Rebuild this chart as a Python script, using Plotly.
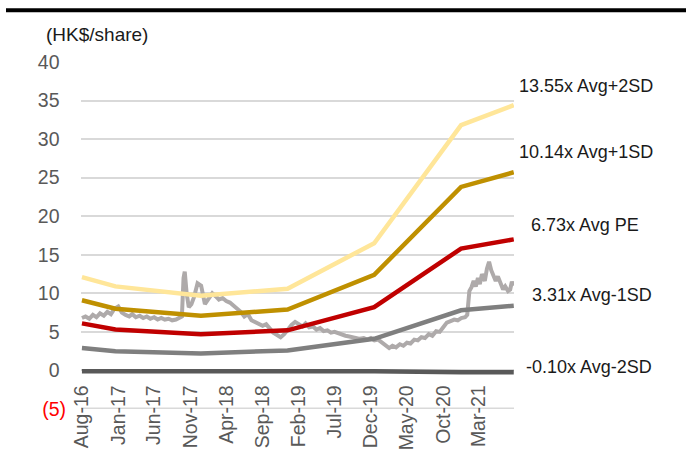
import plotly.graph_objects as go

# ---------------- data ----------------
band_dates = ["2016-08-01", "2016-12-20", "2017-12-15", "2018-12-15",
              "2019-12-15", "2020-12-15", "2021-07-25"]
plus2sd = [12.1, 10.9, 9.7, 10.6, 16.5, 31.8, 34.4]
plus1sd = [9.1, 8.0, 7.1, 7.9, 12.4, 23.8, 25.7]
avg_pe = [6.1, 5.3, 4.7, 5.2, 8.2, 15.8, 17.0]
minus1sd = [2.9, 2.5, 2.2, 2.6, 4.1, 7.8, 8.4]
minus2sd = [-0.09, -0.08, -0.07, -0.08, -0.12, -0.23, -0.25]

price_dates = [
    "2016-08-01", "2016-08-16", "2016-09-01", "2016-09-16", "2016-10-01", "2016-10-16",
    "2016-11-01", "2016-11-16", "2016-12-01", "2016-12-16", "2017-01-01", "2017-01-16",
    "2017-02-01", "2017-02-16", "2017-03-01", "2017-03-16", "2017-04-01", "2017-04-16",
    "2017-05-01", "2017-05-16", "2017-06-01", "2017-06-16", "2017-07-01", "2017-07-16",
    "2017-08-01", "2017-08-16", "2017-09-01", "2017-09-16", "2017-09-26", "2017-10-03",
    "2017-10-08", "2017-10-16", "2017-10-25", "2017-11-05", "2017-11-16", "2017-12-01",
    "2017-12-16", "2018-01-01", "2018-01-16", "2018-02-01", "2018-02-16", "2018-03-01",
    "2018-03-16", "2018-04-01", "2018-04-16", "2018-05-01", "2018-05-16", "2018-06-01",
    "2018-06-16", "2018-07-01", "2018-07-16", "2018-08-01", "2018-08-16", "2018-09-01",
    "2018-09-16", "2018-10-01", "2018-10-16", "2018-11-01", "2018-11-16", "2018-12-01",
    "2018-12-16", "2019-01-01", "2019-01-16", "2019-02-01", "2019-02-16", "2019-03-01",
    "2019-03-16", "2019-04-01", "2019-04-16", "2019-05-01", "2019-05-16", "2019-06-01",
    "2019-06-16", "2019-07-01", "2019-07-16", "2019-08-01", "2019-08-16", "2019-09-01",
    "2019-09-16", "2019-10-01", "2019-10-16", "2019-11-01", "2019-11-16", "2019-12-01",
    "2019-12-16", "2020-01-01", "2020-01-16", "2020-02-01", "2020-02-16", "2020-03-01",
    "2020-03-16", "2020-04-01", "2020-04-16", "2020-05-01", "2020-05-16", "2020-06-01",
    "2020-06-16", "2020-07-01", "2020-07-16", "2020-08-01", "2020-08-16", "2020-09-01",
    "2020-09-16", "2020-10-01", "2020-10-16", "2020-11-01", "2020-11-16", "2020-12-01",
    "2020-12-16", "2021-01-01", "2021-01-10", "2021-01-19", "2021-01-28", "2021-02-06",
    "2021-02-15", "2021-02-24", "2021-03-04", "2021-03-13", "2021-03-25", "2021-04-03",
    "2021-04-12", "2021-04-21", "2021-05-01", "2021-05-10", "2021-05-19", "2021-06-01",
    "2021-06-10", "2021-06-19", "2021-07-01", "2021-07-10", "2021-07-17", "2021-07-24",
]
price = [
    6.8, 7.0, 6.7, 7.2, 6.9, 7.4,
    7.1, 7.6, 7.3, 8.0, 8.3, 7.5,
    7.2, 7.0, 7.3, 6.9, 7.1, 6.8,
    7.0, 6.7, 6.9, 6.6, 6.8, 6.6,
    6.7, 6.5, 6.6, 6.9, 7.0, 12.0,
    12.8, 10.0, 8.2, 8.6, 9.5, 11.3,
    11.0, 8.6, 9.2, 10.0, 9.6, 9.2,
    9.4, 9.0, 8.8, 8.4, 8.0, 7.6,
    7.0, 7.3, 6.5, 6.3, 6.1, 5.8,
    6.0, 5.5, 4.9, 4.6, 4.3, 4.7,
    5.3, 5.9, 6.3, 6.0, 5.7, 6.1,
    5.6, 5.7, 5.3, 5.5, 5.1, 5.2,
    4.9, 5.0, 4.8, 4.6, 4.5, 4.4,
    4.3, 4.3, 4.1, 4.2, 4.0, 4.2,
    3.9, 4.0, 3.6, 3.3, 2.9, 3.2,
    3.0, 3.4, 3.2, 3.6, 3.5, 4.0,
    3.9, 4.3, 4.2, 4.7, 4.5, 5.1,
    5.0, 5.6, 6.2, 6.4, 6.6, 6.5,
    6.8, 6.9, 7.2, 10.3, 10.8, 11.6,
    10.9, 12.0, 11.2, 12.5, 11.6, 13.2,
    14.1, 13.0, 12.4, 11.6, 12.2, 11.0,
    10.5, 10.9, 10.3, 10.5, 11.5, 11.0,
]

x_tick_dates = ["2016-08-01", "2017-01-01", "2017-06-01", "2017-11-01", "2018-04-01",
                "2018-09-01", "2019-02-01", "2019-07-01", "2019-12-01", "2020-05-01",
                "2020-10-01", "2021-03-01"]
x_tick_labels = ["Aug-16", "Jan-17", "Jun-17", "Nov-17", "Apr-18", "Sep-18", "Feb-19",
                 "Jul-19", "Dec-19", "May-20", "Oct-20", "Mar-21"]
y_tick_values = [-5, 0, 5, 10, 15, 20, 25, 30, 35, 40]
band_labels = ["13.55x Avg+2SD", "10.14x Avg+1SD", "6.73x Avg PE", "3.31x Avg-1SD", "-0.10x Avg-2SD"]
unit_label = "(HK$/share)"

# ---------------- layout helpers ----------------
W, H = 686, 453
L, R, T, B = 81, 514, 62, 409


def px_x(p):
    return (p - L) / (R - L)


def px_y(p):
    return (B - p) / (B - T)


FONT = "Liberation Sans, Arial, sans-serif"

fig = go.Figure()
fig.add_trace(go.Scatter(x=price_dates, y=price, mode="lines",
                         line=dict(color="#AEAAAA", width=4), hoverinfo="skip"))
band_series = [minus2sd, minus1sd, avg_pe, plus1sd, plus2sd]
band_colors = ["#595959", "#7F7F7F", "#C00000", "#BF9000", "#FFE699"]
for vals, col in zip(band_series, band_colors):
    fig.add_trace(go.Scatter(x=band_dates, y=vals, mode="lines",
                             line=dict(color=col, width=4.5), hoverinfo="skip"))


def ylab(v):
    if v < 0:
        return "<span style='color:#FF0000'>(%d)</span>" % abs(v)
    return "%d<span style='color:rgba(0,0,0,0)'>)</span>" % v


fig.update_layout(
    width=W, height=H,
    margin=dict(l=L, r=W - R, t=T, b=H - B, pad=0, autoexpand=False),
    paper_bgcolor="white", plot_bgcolor="white",
    showlegend=False,
    font=dict(family=FONT, size=19, color="#595959"),
    xaxis=dict(type="date", range=["2016-07-28", "2021-07-26"],
               tickvals=x_tick_dates, ticktext=x_tick_labels, tickangle=-90,
               anchor="free", position=5 / 45, showgrid=False, zeroline=False,
               showline=False, ticks="", ticklabelstandoff=10, automargin=False,
               tickfont=dict(family=FONT, size=19.5, color="#595959")),
    yaxis=dict(range=[-5, 40], tickvals=y_tick_values,
               ticktext=[ylab(v) for v in y_tick_values],
               showgrid=True, gridcolor="#D9D9D9", gridwidth=1.5, automargin=False,
               zeroline=False, showline=False, ticks="", ticklabelstandoff=14,
               tickfont=dict(family=FONT, size=19.5, color="#595959")),
)

# bottom gridline at the lowest tick (plotly hides the grid line on the range edge)
fig.add_shape(type="line", xref="paper", yref="paper", x0=0, x1=1,
              y0=px_y(408.3), y1=px_y(408.3),
              line=dict(color="#D9D9D9", width=1.5), layer="below")

label_pos = [(517, 86), (517, 151.5), (529, 225), (530, 295), (524, 366.5)]
for text, (px, py) in zip(band_labels, label_pos):
    fig.add_annotation(text=text, xref="paper", yref="paper", x=px_x(px), y=px_y(py),
                       xanchor="left", yanchor="middle", showarrow=False,
                       font=dict(family=FONT, size=18, color="#1A1A1A"))

fig.add_annotation(text=unit_label, xref="paper", yref="paper", x=px_x(44), y=px_y(35),
                   xanchor="left", yanchor="middle", showarrow=False,
                   font=dict(family=FONT, size=19, color="#1A1A1A"))

fig.add_shape(type="line", xref="paper", yref="paper",
              x0=px_x(6), x1=px_x(690), y0=px_y(10.3), y1=px_y(10.3),
              line=dict(color="black", width=4))

fig.write_html("out.html")
